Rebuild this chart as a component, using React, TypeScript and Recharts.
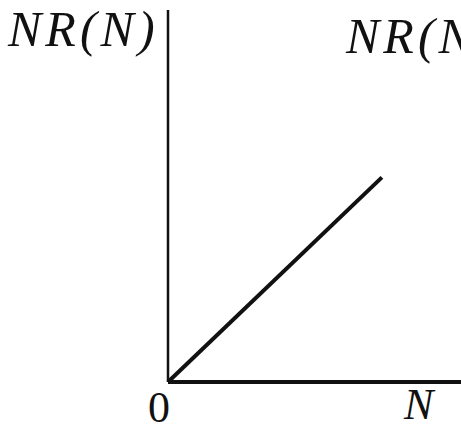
import { LineChart, Line, XAxis, YAxis, Label } from 'recharts';

// growth of NR(N) with N, straight line from the origin
const nValues = [0, 0.73];
const nrValues = [0, 0.55];
const xTicks = [0];

const data = nValues.map((n, i) => ({ n, nr: nrValues[i] }));

const serif = "'Liberation Serif', 'DejaVu Serif', serif";
const italic = { fontFamily: serif, fontStyle: 'italic' as const };

const AxisTitles = () => (
  <g fill="#111">
    <text x={8} y={46} fontSize={50} letterSpacing={4} style={italic}>NR(N)</text>
    <text x={346} y={53} fontSize={50} letterSpacing={4} style={italic}>NR(N)</text>
    <text x={404} y={419} fontSize={44} style={italic}>N</text>
  </g>
);

const ZeroTick = (props: any) => {
  const { x, y, payload } = props;
  return (
    <text x={x - 9} y={y + 32} textAnchor="middle" fontSize={44} fill="#111" style={{ fontFamily: serif }}>
      {payload.value}
    </text>
  );
};

export default function App() {
  return (
    <div style={{ position: 'absolute', left: 0, top: 0, background: '#fff' }}>
      <LineChart width={461} height={428} data={data} margin={{ top: 10, right: 0, bottom: 0, left: 0 }}>
        <XAxis
          dataKey="n"
          type="number"
          domain={[0, 1]}
          ticks={xTicks}
          tick={<ZeroTick />}
          tickLine={false}
          axisLine={{ stroke: '#111', strokeWidth: 4 }}
          height={46}
        >
          <Label content={() => <AxisTitles />} />
        </XAxis>
        <YAxis
          type="number"
          domain={[0, 1]}
          tick={false}
          tickLine={false}
          axisLine={{ stroke: '#111', strokeWidth: 2.5 }}
          width={168}
        />
        <Line
          type="linear"
          dataKey="nr"
          stroke="#111"
          strokeWidth={4}
          dot={false}
          isAnimationActive={false}
        />
      </LineChart>
    </div>
  );
}
